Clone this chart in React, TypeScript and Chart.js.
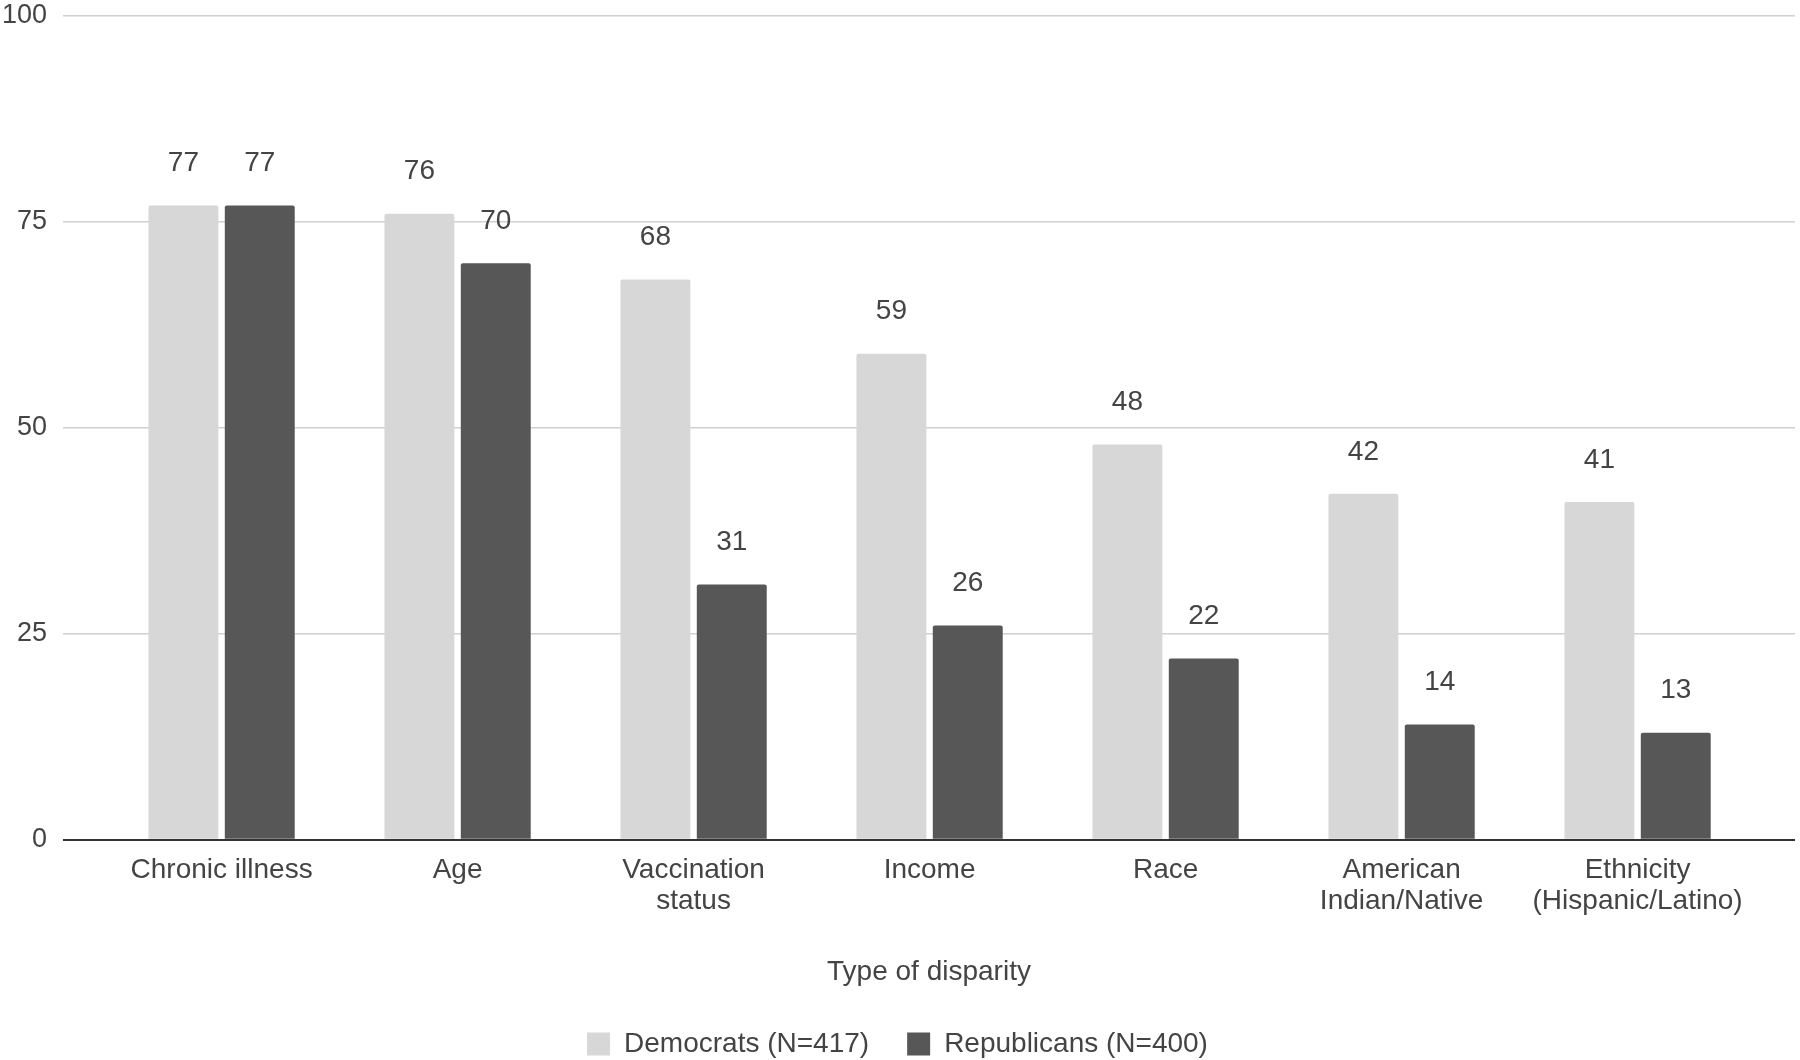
import React, { useEffect, useRef } from "react";
import { Chart, registerables } from "chart.js";

Chart.register(...registerables);

const CATEGORIES: (string | string[])[] = [
  "Chronic illness",
  "Age",
  ["Vaccination", "status"],
  "Income",
  "Race",
  ["American", "Indian/Native"],
  ["Ethnicity", "(Hispanic/Latino)"],
];
const DEMOCRATS = [77, 76, 68, 59, 48, 42, 41];
const REPUBLICANS = [77, 70, 31, 26, 22, 14, 13];
const SERIES_NAMES = ["Democrats (N=417)", "Republicans (N=400)"];
const Y_TICKS = [0, 25, 50, 75, 100];
const X_TITLE = "Type of disparity";

const FONT = "'Liberation Sans', Arial, sans-serif";
const TEXT = "#444444";

const valueLabels = {
  id: "valueLabels",
  afterDatasetsDraw(chart: any) {
    const ctx = chart.ctx;
    ctx.save();
    ctx.font = `28px ${FONT}`;
    ctx.fillStyle = TEXT;
    ctx.textAlign = "center";
    ctx.textBaseline = "middle";
    chart.data.datasets.forEach((ds: any, di: number) => {
      const meta = chart.getDatasetMeta(di);
      meta.data.forEach((el: any, i: number) => {
        const v = ds.data[i].y;
        ctx.fillText(String(v), el.x, el.y - 42);
      });
    });
    ctx.restore();
  },
};

export default function App() {
  const ref = useRef<HTMLCanvasElement | null>(null);
  useEffect(() => {
    if (!ref.current) return;
    const toPoints = (arr: number[]) => arr.map((v, i) => ({ x: i, y: v }));
    const chart = new Chart(ref.current, {
      type: "bar",
      data: {
        datasets: [
          {
            label: SERIES_NAMES[0],
            data: toPoints(DEMOCRATS),
            backgroundColor: "#d7d7d7",
            borderWidth: 0,
            borderRadius: 2,
            borderSkipped: "bottom",
          },
          {
            label: SERIES_NAMES[1],
            data: toPoints(REPUBLICANS),
            backgroundColor: "#575757",
            borderWidth: 0,
            borderRadius: 2,
            borderSkipped: "bottom",
          },
        ],
      } as any,
      options: {
        responsive: false,
        animation: false,
        devicePixelRatio: 1,
        categoryPercentage: 0.647,
        barPercentage: 0.916,
        layout: { padding: { left: 0, right: 5, top: 0, bottom: -8 } },
        plugins: {
          legend: {
            position: "bottom",
            labels: {
              font: { family: FONT, size: 28 },
              color: TEXT,
              boxWidth: 23,
              boxHeight: 23,
              padding: 38,
            },
          },
          tooltip: { enabled: false },
        },
        scales: {
          x: {
            type: "linear",
            min: -0.672,
            max: 6.667,
            offset: false,
            afterBuildTicks: (scale: any) => {
              scale.ticks = CATEGORIES.map((_, i) => ({ value: i }));
            },
            ticks: {
              autoSkip: false,
              maxRotation: 0,
              minRotation: 0,
              padding: 15,
              color: TEXT,
              font: { family: FONT, size: 28, lineHeight: 1.1 },
              callback: (value: any) => CATEGORIES[Math.round(Number(value))] as any,
            },
            grid: { display: false, drawTicks: false },
            border: { display: false },
            title: {
              display: true,
              text: X_TITLE,
              color: TEXT,
              font: { family: FONT, size: 28, lineHeight: 1.2 },
              padding: { top: 24, bottom: 3 },
            },
          },
          y: {
            min: 0,
            max: 100,
            afterBuildTicks: (scale: any) => {
              scale.ticks = Y_TICKS.map((v) => ({ value: v }));
            },
            afterFit: (scale: any) => {
              scale.width = 63;
              scale.paddingTop = 16;
              scale.paddingBottom = 16;
            },
            ticks: {
              padding: 16,
              color: TEXT,
              font: { family: FONT, size: 27 },
            },
            grid: {
              drawTicks: false,
              color: (c: any) => (c.tick && c.tick.value === 0 ? "#333333" : "#d0d0d0"),
              lineWidth: (c: any) => (c.tick && c.tick.value === 0 ? 2 : 1.5),
            },
            border: { display: false },
          },
        },
      } as any,
      plugins: [valueLabels],
    });
    return () => chart.destroy();
  }, []);

  return (
    <div style={{ position: "absolute", left: 0, top: 0, width: 1800, height: 1060, background: "#fff" }}>
      <canvas ref={ref} width={1800} height={1060} style={{ width: 1800, height: 1060, display: "block" }} />
    </div>
  );
}
